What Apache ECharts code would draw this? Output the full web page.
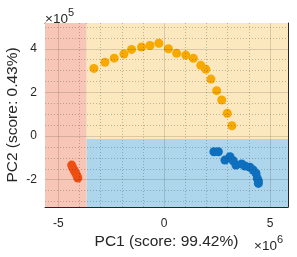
<!DOCTYPE html>
<html><head><meta charset="utf-8">
<script src="https://cdn.jsdelivr.net/npm/echarts@6/dist/echarts.min.js"></script>
<style>html,body{margin:0;padding:0;background:#fff}#c{width:297px;height:257px}</style>
</head><body><div id="c"></div>
<script>
// values in units of 1e6 (PC1) and 1e5 (PC2)
const groupYellowX = [-3.32,-2.80,-2.36,-1.90,-1.54,-1.07,-0.67,-0.25,0.20,0.59,1.02,1.38,1.73,1.97,2.21,2.48,2.72,2.98,3.20];
const groupYellowY = [3.10,3.38,3.57,3.76,3.97,4.08,4.15,4.25,4.00,3.79,3.71,3.56,3.24,3.06,2.61,2.08,1.65,1.04,0.47];
const groupBlueX = [2.35,2.56,2.87,3.11,3.26,3.39,3.66,3.82,4.05,4.21,4.34,4.40,4.45,4.45];
const groupBlueY = [-0.72,-0.72,-1.10,-0.95,-1.13,-1.33,-1.28,-1.37,-1.43,-1.56,-1.71,-1.94,-2.06,-2.17];
const groupRedX = [-4.37,-4.32,-4.25,-4.18,-4.12,-4.08];
const groupRedY = [-1.33,-1.45,-1.58,-1.70,-1.82,-1.92];
const xRange = [-5.63, 5.85];
const yRange = [-3.25, 5.18];
const regionSplitX = -3.66;
const regionSplitY = -0.14;
const xMajorTicks = [-5, 0, 5];
const yMajorTicks = [-2, 0, 2, 4];
const xMinorTicks = [-4,-3,-2,-1,1,2,3,4];
const yMinorTicks = [-3,-2.5,-1.5,-1,-0.5,0.5,1,1.5,2.5,3,3.5,4.5,5];
const xLabel = 'PC1 (score: 99.42%)';
const yLabel = 'PC2 (score: 0.43%)';

const zip = (a, b) => a.map((v, i) => [v, b[i]]);
const axisColor = '#262626';
const font = 'Liberation Sans, Arial, sans-serif';

const chart = echarts.init(document.getElementById('c'), null, {renderer: 'canvas'});
const baseAxis = {
  axisLine: {show: true, onZero: false, lineStyle: {color: axisColor, width: 1}},
  splitLine: {show: false},
};
function mkX(pos, labels) {
  return Object.assign({}, baseAxis, {
    type: 'value', position: pos, min: xRange[0], max: xRange[1],
    axisTick: {show: true, inside: true, length: 3, customValues: xMajorTicks, lineStyle: {color: axisColor}},
    axisLabel: {show: labels, customValues: xMajorTicks, color: axisColor, fontFamily: font, fontSize: 12, margin: 11}
  });
}
function mkY(pos, labels) {
  return Object.assign({}, baseAxis, {
    type: 'value', position: pos, min: yRange[0], max: yRange[1],
    axisTick: {show: true, inside: true, length: 3, customValues: yMajorTicks, lineStyle: {color: axisColor}},
    axisLabel: {show: labels, customValues: yMajorTicks, color: axisColor, fontFamily: font, fontSize: 12, margin: 8}
  });
}
const xa0 = mkX('bottom', true);
xa0.name = xLabel; xa0.nameLocation = 'middle'; xa0.nameGap = 27; xa0.nameMoveOverlap = false;
xa0.nameTextStyle = {color: axisColor, fontFamily: font, fontSize: 15.5};
const ya0 = mkY('left', true);
ya0.name = yLabel; ya0.nameLocation = 'middle'; ya0.nameGap = 24; ya0.nameMoveOverlap = false;
ya0.nameTextStyle = {color: axisColor, fontFamily: font, fontSize: 15.5};

const majorStyle = {color: 'rgba(38,38,38,0.16)', width: 1, type: 'solid'};
const minorStyle = {color: 'rgba(38,38,38,0.28)', width: 1, type: [1, 2]};
const gridLines = [].concat(
  xMajorTicks.map(v => ({xAxis: v, lineStyle: majorStyle})),
  xMinorTicks.map(v => ({xAxis: v, lineStyle: minorStyle})),
  yMajorTicks.map(v => ({yAxis: v, lineStyle: majorStyle})),
  yMinorTicks.map(v => ({yAxis: v, lineStyle: minorStyle}))
);

const option = {
  animation: false,
  grid: {left: 45, top: 23, width: 243, height: 184, containLabel: false, outerBoundsMode: 'none'},
  xAxis: [xa0, mkX('top', false)],
  yAxis: [ya0, mkY('right', false)],
  series: [
    {type: 'scatter', data: [], z: 0, silent: true,
     markArea: {silent: true, data: [
       [{xAxis: xRange[0], yAxis: yRange[0], itemStyle: {color: '#F8C6B6'}}, {xAxis: regionSplitX, yAxis: yRange[1]}],
       [{xAxis: regionSplitX, yAxis: regionSplitY, itemStyle: {color: '#FCE8BE'}}, {xAxis: xRange[1], yAxis: yRange[1]}],
       [{xAxis: regionSplitX, yAxis: yRange[0], itemStyle: {color: '#ADD6EC'}}, {xAxis: xRange[1], yAxis: regionSplitY}]
     ]}},
    {type: 'scatter', data: [], z: 1, silent: true,
     markLine: {silent: true, symbol: ['none', 'none'], label: {show: false}, data: gridLines}},
    {type: 'scatter', z: 3, symbolSize: 9, itemStyle: {color: '#F7A900', opacity: 1}, data: zip(groupYellowX, groupYellowY)},
    {type: 'scatter', z: 3, symbolSize: 9, itemStyle: {color: '#0F6FBF', opacity: 1}, data: zip(groupBlueX, groupBlueY)},
    {type: 'scatter', z: 3, symbolSize: 9, itemStyle: {color: '#EE4E12', opacity: 1}, data: zip(groupRedX, groupRedY)}
  ],
  graphic: [
    {type: 'text', left: 45, top: 7, style: {text: '{a|×10}{b|5}', rich: {
      a: {fontSize: 13.5, fontFamily: font, fill: axisColor, verticalAlign: 'bottom'},
      b: {fontSize: 11, fontFamily: font, fill: axisColor, verticalAlign: 'top', padding: [0, 0, 8, 0]}}}},
    {type: 'text', left: 254, top: 234, style: {text: '{a|×10}{b|6}', rich: {
      a: {fontSize: 13.5, fontFamily: font, fill: axisColor, verticalAlign: 'bottom'},
      b: {fontSize: 11, fontFamily: font, fill: axisColor, verticalAlign: 'top', padding: [0, 0, 8, 0]}}}}
  ]
};
chart.setOption(option);
</script></body></html>
